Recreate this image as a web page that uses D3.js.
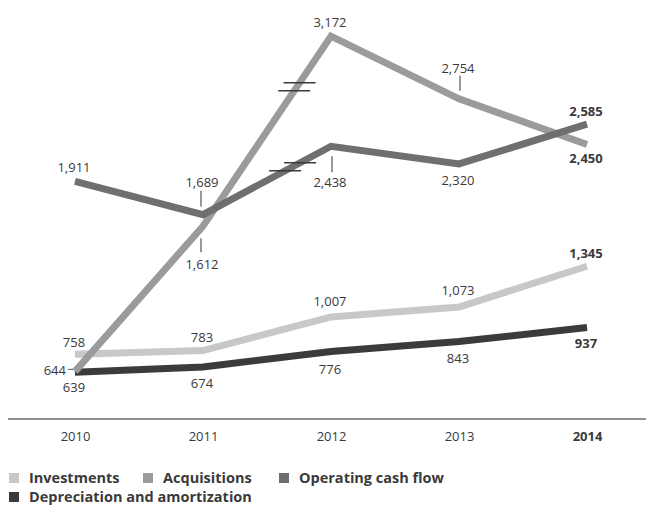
<!DOCTYPE html>
<html>
<head>
<meta charset="utf-8">
<script src="https://cdn.jsdelivr.net/npm/d3@7"></script>
<style>
  html, body { margin: 0; padding: 0; background: #ffffff; }
  svg { display: block; font-family: "Open Sans", sans-serif; }
</style>
</head>
<body>
<svg id="chart" width="646" height="506"></svg>
<script>
// ---- data ----
const years = ["2010", "2011", "2012", "2013", "2014"];
const investments = [758, 783, 1007, 1073, 1345];
const acquisitions = [644, 1612, 3172, 2754, 2450];
const operatingCashFlow = [1911, 1689, 2438, 2320, 2585];
const depreciation = [639, 674, 776, 843, 937];
const seriesNames = ["Investments", "Acquisitions", "Operating cash flow", "Depreciation and amortization"];

// ---- styling / layout ----
const colors = ["#c8c8c8", "#9b9b9d", "#6f6f71", "#3b3b3b"];
const W = 646, H = 506;
const textColor = "#3a3a3a";

// axis break: values above breakHigh are drawn as if shifted down by the gap
const breakLow = 2000, breakHigh = 2293;

const svg = d3.select("#chart");

const x = d3.scalePoint().domain(years).range([75, 587]);
const base = d3.scaleLinear().domain([0, 3200]).range([468, -12]);
const y = d3.scaleLinear()
  .domain([0, breakLow, breakHigh, 3600])
  .range([base(0), base(breakLow), base(breakLow), base(3600 - (breakHigh - breakLow))]);

const allSeries = [investments, acquisitions, operatingCashFlow, depreciation];
const drawOrder = [0, 3, 1, 2];

const line = d3.line()
  .x((d, i) => x(years[i]))
  .y(d => y(d));

drawOrder.forEach(si => {
  svg.append("path")
    .datum(allSeries[si])
    .attr("d", line)
    .attr("fill", "none")
    .attr("stroke", colors[si])
    .attr("stroke-width", 7)
    .attr("stroke-linejoin", "miter")
    .attr("stroke-linecap", "butt");
});

// break marks on the 2011 -> 2012 segments of the broken series
const breakT = { 1: 0.734, 2: 0.70 };
[1, 2].forEach(si => {
  const s = allSeries[si];
  const x0 = x(years[1]), y0 = y(s[1]), x1 = x(years[2]), y1 = y(s[2]);
  const t = breakT[si];
  const ym = y0 + (y1 - y0) * t;
  [-4, 4].forEach(off => {
    const yy = ym + off;
    const tt = (yy - y0) / (y1 - y0);
    const xx = x0 + (x1 - x0) * tt;
    svg.append("line")
      .attr("x1", xx - 16).attr("x2", xx + 16)
      .attr("y1", yy).attr("y2", yy)
      .attr("stroke", "#3a3a3a").attr("stroke-width", 1.4);
  });
});

// ---- value labels ----
const fmt = d3.format(",");
const labelSpec = [
  { s: 0, i: 0, pos: "above", dy: -7 },
  { s: 0, i: 1, pos: "above", dy: -9 },
  { s: 0, i: 2, pos: "above", dy: -11 },
  { s: 0, i: 3, pos: "above", dy: -12 },
  { s: 0, i: 4, pos: "above", dy: -8 },
  { s: 3, i: 0, pos: "below", dy: 20 },
  { s: 3, i: 1, pos: "below", dy: 21 },
  { s: 3, i: 2, pos: "below", dy: 22 },
  { s: 3, i: 3, pos: "below", dy: 21 },
  { s: 3, i: 4, pos: "below", dy: 21 },
  { s: 1, i: 0, pos: "left", dy: 4 },
  { s: 1, i: 1, pos: "below", dy: 43, tick: [12, 26], tx: -2 },
  { s: 1, i: 2, pos: "above", dy: -9 },
  { s: 1, i: 3, pos: "above", dy: -26, tick: [-8, -23], tx: 1 },
  { s: 1, i: 4, pos: "below", dy: 19 },
  { s: 2, i: 0, pos: "above", dy: -9 },
  { s: 2, i: 1, pos: "above", dy: -28, tick: [-8, -24], tx: -2 },
  { s: 2, i: 2, pos: "below", dy: 41, tick: [10, 26], tx: 1 },
  { s: 2, i: 3, pos: "below", dy: 21 },
  { s: 2, i: 4, pos: "above", dy: -8 }
];

const labels = svg.append("g");
labelSpec.forEach(l => {
  const v = allSeries[l.s][l.i];
  const px = x(years[l.i]), py = y(v);
  const last = l.i === years.length - 1;
  if (l.pos === "left") {
    labels.append("text")
      .attr("x", px - 9).attr("y", py + l.dy)
      .attr("text-anchor", "end")
      .attr("font-size", 13).attr("fill", textColor)
      .text(fmt(v));
    labels.append("line")
      .attr("x1", px - 7).attr("x2", px - 2)
      .attr("y1", py - 2).attr("y2", py - 2)
      .attr("stroke", "#555").attr("stroke-width", 1);
    return;
  }
  if (l.tick) {
    labels.append("line")
      .attr("x1", px + l.tx).attr("x2", px + l.tx)
      .attr("y1", py + l.tick[0]).attr("y2", py + l.tick[1])
      .attr("stroke", "#555").attr("stroke-width", 1.2);
  }
  labels.append("text")
    .attr("x", px - 1).attr("y", py + l.dy)
    .attr("text-anchor", "middle")
    .attr("font-size", 13)
    .attr("font-weight", last ? "bold" : "normal")
    .attr("fill", textColor)
    .text(fmt(v));
});

// ---- x axis ----
svg.append("line")
  .attr("x1", 8).attr("x2", W)
  .attr("y1", 419).attr("y2", 419)
  .attr("stroke", "#6a6a6a").attr("stroke-width", 1.5);

const xAxis = d3.axisBottom(x).tickSize(0).tickPadding(0);
const axG = svg.append("g").attr("transform", "translate(0,432)").call(xAxis);
axG.select(".domain").remove();
axG.selectAll("text")
  .attr("font-family", "Open Sans, sans-serif")
  .attr("font-size", 13)
  .attr("fill", textColor)
  .attr("dy", "0.71em")
  .attr("font-weight", d => d === years[years.length - 1] ? "bold" : "normal");

// ---- legend ----
const legendPos = [
  { x: 9, y: 473 }, { x: 143, y: 473 }, { x: 279, y: 473 }, { x: 9, y: 492 }
];
const lg = svg.append("g");
seriesNames.forEach((name, i) => {
  const p = legendPos[i];
  lg.append("rect")
    .attr("x", p.x).attr("y", p.y)
    .attr("width", 10).attr("height", 10)
    .attr("fill", colors[i]);
  lg.append("text")
    .attr("x", p.x + 20).attr("y", p.y + 10)
    .attr("font-size", 14.5).attr("font-weight", "bold")
    .attr("fill", textColor)
    .text(name);
});
</script>
</body>
</html>
